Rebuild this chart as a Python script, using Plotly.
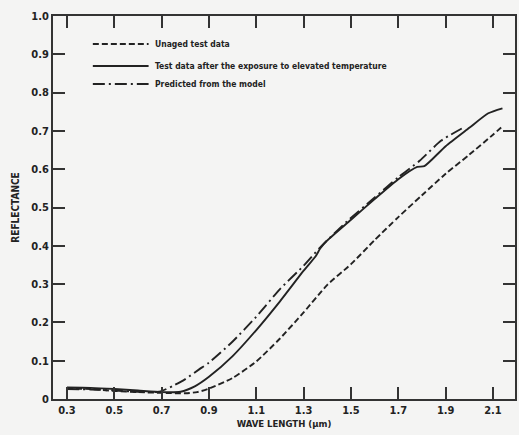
import plotly.graph_objects as go

# ---- data ----
unaged_x = [0.30, 0.40, 0.50, 0.60, 0.70, 0.80, 0.85, 0.90, 1.00, 1.10, 1.20, 1.30, 1.40, 1.50, 1.60, 1.70, 1.80, 1.90, 2.00, 2.10, 2.14]
unaged_y = [0.027, 0.026, 0.021, 0.018, 0.016, 0.015, 0.018, 0.027, 0.055, 0.098, 0.158, 0.226, 0.298, 0.352, 0.415, 0.475, 0.532, 0.588, 0.638, 0.690, 0.712]

aged_x = [0.30, 0.40, 0.50, 0.60, 0.70, 0.78, 0.84, 0.90, 1.00, 1.10, 1.20, 1.30, 1.35, 1.37, 1.40, 1.50, 1.60, 1.70, 1.78, 1.81, 1.90, 2.00, 2.08, 2.14]
aged_y = [0.030, 0.029, 0.026, 0.022, 0.018, 0.019, 0.033, 0.058, 0.112, 0.180, 0.255, 0.335, 0.372, 0.393, 0.414, 0.468, 0.522, 0.574, 0.606, 0.608, 0.660, 0.708, 0.746, 0.759]

model_x = [0.30, 0.40, 0.50, 0.60, 0.69, 0.75, 0.80, 0.86, 0.90, 1.00, 1.10, 1.20, 1.30, 1.37, 1.48, 1.60, 1.70, 1.79, 1.88, 1.97]
model_y = [0.026, 0.025, 0.022, 0.019, 0.019, 0.035, 0.052, 0.078, 0.095, 0.150, 0.215, 0.287, 0.348, 0.396, 0.462, 0.526, 0.579, 0.622, 0.674, 0.707]

names = ["Unaged test data",
         "Test data after the exposure to elevated temperature",
         "Predicted from the model"]
dashes = ["6px,3px", "solid", "12px,4px,2px,4px"]

x_ticks = [0.3, 0.5, 0.7, 0.9, 1.1, 1.3, 1.5, 1.7, 1.9, 2.1]
x_labels = ["0.3", "0.5", "0.7", "0.9", "1.1", "1.3", "1.5", "1.7", "1.9", "2.1"]
y_ticks = [0, 0.1, 0.2, 0.3, 0.4, 0.5, 0.6, 0.7, 0.8, 0.9, 1.0]
y_labels = ["0", "0.1", "0.2", "0.3", "0.4", "0.5", "0.6", "0.7", "0.8", "0.9", "1.0"]

INK = "#222222"
FONT = "Liberation Sans Narrow, DejaVu Sans Condensed, Roboto, sans-serif"

fig = go.Figure()
for xs, ys, nm, ds in [(unaged_x, unaged_y, names[0], dashes[0]),
                       (aged_x, aged_y, names[1], dashes[1]),
                       (model_x, model_y, names[2], dashes[2])]:
    fig.add_trace(go.Scatter(x=xs, y=ys, mode="lines", name=nm, showlegend=False,
                             line=dict(color=INK, width=1.9, dash=ds, shape="spline", smoothing=0.6)))

# legend drawn as line samples + labels (paper coordinates)
W, H = 519, 435
L, R, T, B = 53, 2, 16, 36
pw, ph = W - L - R, H - T - B
def px(xp):
    return (xp - L) / pw
def py(yp):
    return 1 - (yp - T) / ph
leg_rows = [44, 66, 84]
for yy, nm, ds in zip(leg_rows, names, dashes):
    fig.add_shape(type="line", xref="paper", yref="paper",
                  x0=px(93), x1=px(149), y0=py(yy), y1=py(yy),
                  line=dict(color=INK, width=1.8, dash=ds))
    fig.add_annotation(xref="paper", yref="paper", x=px(153), y=py(yy),
                       text=nm, showarrow=False, xanchor="left", yanchor="middle",
                       font=dict(family=FONT, size=8.5, color=INK, weight="bold"))

axis_common = dict(showline=True, linecolor="#333", linewidth=1.8, mirror="ticks",
                   ticks="inside", ticklen=12, tickwidth=1.6, tickcolor="#333",
                   showgrid=False, zeroline=False,
                   tickfont=dict(family=FONT, size=11, color=INK, weight="bold"))

fig.update_layout(
    width=W, height=H,
    margin=dict(l=L, r=R, t=T, b=B),
    paper_bgcolor="#f4f4f3", plot_bgcolor="#f4f4f3",
    xaxis=dict(range=[0.241, 2.193], tickvals=x_ticks, ticktext=x_labels,
               title=dict(text="WAVE LENGTH (μm)", standoff=4,
                          font=dict(family=FONT, size=9.5, color=INK, weight="bold")),
               **axis_common),
    yaxis=dict(range=[0, 1.0], tickvals=y_ticks, ticktext=y_labels,
               title=dict(text="REFLECTANCE", standoff=10,
                          font=dict(family=FONT, size=10, color=INK, weight="bold")),
               **axis_common),
)

fig.write_html("out.html")
